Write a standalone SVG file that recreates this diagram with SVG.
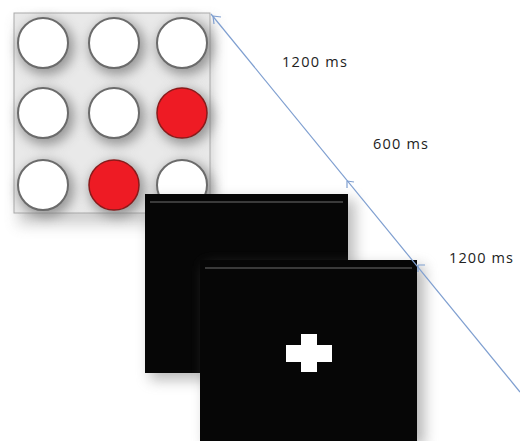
<svg xmlns="http://www.w3.org/2000/svg" width="520" height="441" viewBox="0 0 520 441">
  <defs>
    <filter id="soft" x="-30%" y="-30%" width="160%" height="160%">
      <feGaussianBlur stdDeviation="7"/>
    </filter>
    <filter id="halo" x="-50%" y="-50%" width="200%" height="200%">
      <feGaussianBlur stdDeviation="6"/>
    </filter>
    <style>
      .dot { fill: #ffffff; stroke: #6b6b6b; stroke-width: 2; }
      .hit { fill: #ee1b24; stroke: #8a1a1a; stroke-width: 1.5; }
      .screen { fill: #060606; }
      .rim { stroke: #3a3a3a; stroke-width: 2; }
      .time { font-family: "Open Sans", "Liberation Sans", sans-serif; font-size: 14.5px; fill: #222222; }
      .axis { stroke: #7f9fd0; stroke-width: 1.2; fill: none; }
    </style>
  </defs>

  <!-- stimulus grid: 3x3 circles, two of them red -->
  <g id="grid">
    <rect x="18" y="20" width="196" height="205" fill="#9a9a9a" opacity="0.45" filter="url(#soft)"/>
    <rect x="14" y="13" width="196" height="200" fill="#e9e9e9" stroke="#a9a9a9" stroke-width="1"/>
    <g fill="#7a7a7a" filter="url(#halo)" opacity="0.75">
      <circle cx="46" cy="47" r="28"/>
      <circle cx="117" cy="47" r="28"/>
      <circle cx="185" cy="47" r="28"/>
      <circle cx="46" cy="117" r="28"/>
      <circle cx="117" cy="117" r="28"/>
      <circle cx="185" cy="117" r="28"/>
      <circle cx="46" cy="189" r="28"/>
      <circle cx="117" cy="189" r="28"/>
      <circle cx="185" cy="189" r="28"/>
    </g>
    <circle class="dot" cx="43" cy="43" r="25"/>
    <circle class="dot" cx="114" cy="43" r="25"/>
    <circle class="dot" cx="182" cy="43" r="25"/>
    <circle class="dot" cx="43" cy="113" r="25"/>
    <circle class="dot" cx="114" cy="113" r="25"/>
    <circle class="hit" cx="182" cy="113" r="25"/>
    <circle class="dot" cx="43" cy="185" r="25"/>
    <circle class="hit" cx="114" cy="185" r="25"/>
    <circle class="dot" cx="182" cy="185" r="25"/>
  </g>

  <!-- blank screen -->
  <g id="blank">
    <rect x="150" y="200" width="205" height="180" fill="#777777" opacity="0.5" filter="url(#soft)"/>
    <rect class="screen" x="145" y="194" width="203" height="179"/>
    <line class="rim" x1="150" y1="202" x2="343" y2="202"/>
  </g>

  <!-- fixation screen -->
  <g id="fixation">
    <rect x="206" y="266" width="218" height="180" fill="#777777" opacity="0.55" filter="url(#soft)"/>
    <rect class="screen" x="200" y="260" width="217" height="181"/>
    <line class="rim" x1="205" y1="268" x2="412" y2="268"/>
    <rect x="286" y="345" width="46" height="17" fill="#ffffff"/>
    <rect x="301" y="334" width="16" height="38" fill="#ffffff"/>
  </g>

  <!-- time axis -->
  <g id="connectors">
    <line class="axis" x1="520" y1="392" x2="211" y2="14"/>
    <path class="axis" d="M213,16 L214,24 M213,16 L221,17"/>
    <path class="axis" d="M347,181 L347,188 M347,181 L354,182"/>
    <path class="axis" d="M418,265 L418,272 M418,265 L425,265"/>
  </g>

  <g id="labels">
    <text class="time" x="282" y="67" textLength="65">1200 ms</text>
    <text class="time" x="373" y="149" textLength="55">600 ms</text>
    <text class="time" x="449" y="263" textLength="64">1200 ms</text>
  </g>
</svg>
